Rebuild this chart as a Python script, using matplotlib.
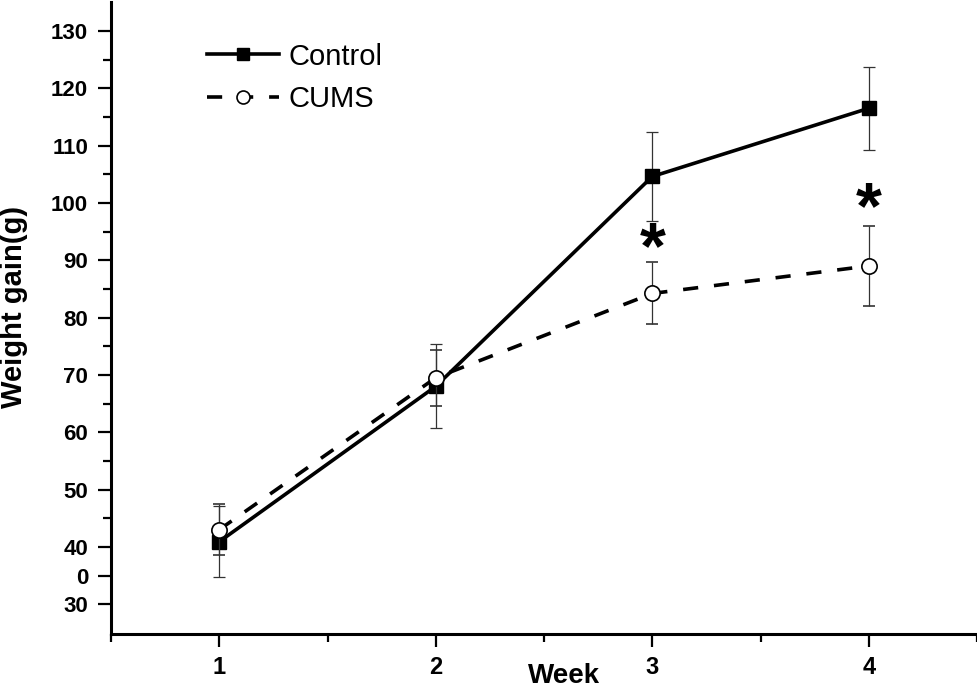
import matplotlib
matplotlib.use('Agg')
import matplotlib.pyplot as plt

# data
weeks = [1, 2, 3, 4]
control_mean = [40.9, 68.0, 104.6, 116.5]
control_err = [6.2, 7.3, 7.7, 7.2]
cums_mean = [43.0, 69.5, 84.2, 89.0]
cums_err = [4.4, 4.9, 5.4, 7.0]

# significance stars
star_weeks = [3, 4]
star_y = [94.0, 101.0]

y_ticks = [30, 35, 40, 50, 60, 70, 80, 90, 100, 110, 120, 130]
y_tick_labels = ['30', '0', '40', '50', '60', '70', '80', '90', '100', '110', '120', '130']
y_minor = [45, 55, 65, 75, 85, 95, 105, 115, 125]
x_minor = [0.5, 1.5, 2.5, 3.5, 4.5]

plt.rcParams['font.family'] = ['Liberation Sans', 'DejaVu Sans']

fig = plt.figure(figsize=(9.78, 6.89), dpi=100)
ax = fig.add_axes([0.1135, 0.0798, 0.8855, 0.917])

# Control: solid line, filled squares
ctl = ax.errorbar(weeks, control_mean, yerr=control_err, color='black', lw=2.6,
                  marker='s', ms=9.5, mfc='black', mec='black',
                  ecolor='#333333', elinewidth=0.9, capsize=4.5, capthick=0.9,
                  zorder=3)
# CUMS: dashed line, open circles
cms = ax.errorbar(weeks, cums_mean, yerr=cums_err, color='black', lw=2.6,
                  dashes=(4.2, 4.4), marker='o', ms=11, mfc='white', mec='black', mew=1.2,
                  ecolor='#333333', elinewidth=0.9, capsize=4.5, capthick=0.9,
                  zorder=4)

# stars, glyph sits high in the font so nudge down a bit
for wx, wy in zip(star_weeks, star_y):
    ax.annotate('*', (wx, wy), xytext=(0, -10), textcoords='offset points',
                fontsize=48, fontweight='bold', ha='center', va='center')

ax.set_xlim(0.5, 4.5)
ax.set_ylim(24.8, 135)
ax.set_xticks(weeks)
ax.set_xticks(x_minor, minor=True)
ax.set_yticks(y_ticks)
ax.set_yticklabels(y_tick_labels)
ax.set_yticks(y_minor, minor=True)

for lbl in ax.get_xticklabels():
    lbl.set_fontweight('bold')
for lbl in ax.get_yticklabels():
    lbl.set_fontweight('bold')

ax.tick_params(axis='x', which='major', direction='out', length=9, width=1.6, labelsize=17, pad=7)
ax.tick_params(axis='y', which='major', direction='out', length=9.4, width=1.6, labelsize=16, pad=7)
ax.tick_params(which='minor', direction='out', length=5.5, width=1.6)

for side in ['top', 'right']:
    ax.spines[side].set_visible(False)
for side in ['left', 'bottom']:
    ax.spines[side].set_linewidth(2.2)

ax.set_xlabel('Week', fontsize=20, fontweight='bold')
ax.xaxis.set_label_coords(0.523, -0.046)
fig.text(14 / 978, 1 - 307 / 689, 'Weight gain(g)', fontsize=21, fontweight='bold',
         rotation=90, ha='center', va='center')

# legend with line+marker only (no error bars)
ax.legend([ctl[0], cms[0]], ['Control', 'CUMS'], loc='upper left',
          bbox_to_anchor=(0.111, 0.936), frameon=False,
          fontsize=21, handlelength=2.47, handletextpad=0.31,
          borderpad=0, borderaxespad=0, labelspacing=0.49, markerscale=0.85)

fig.savefig('out.png', dpi=100)
